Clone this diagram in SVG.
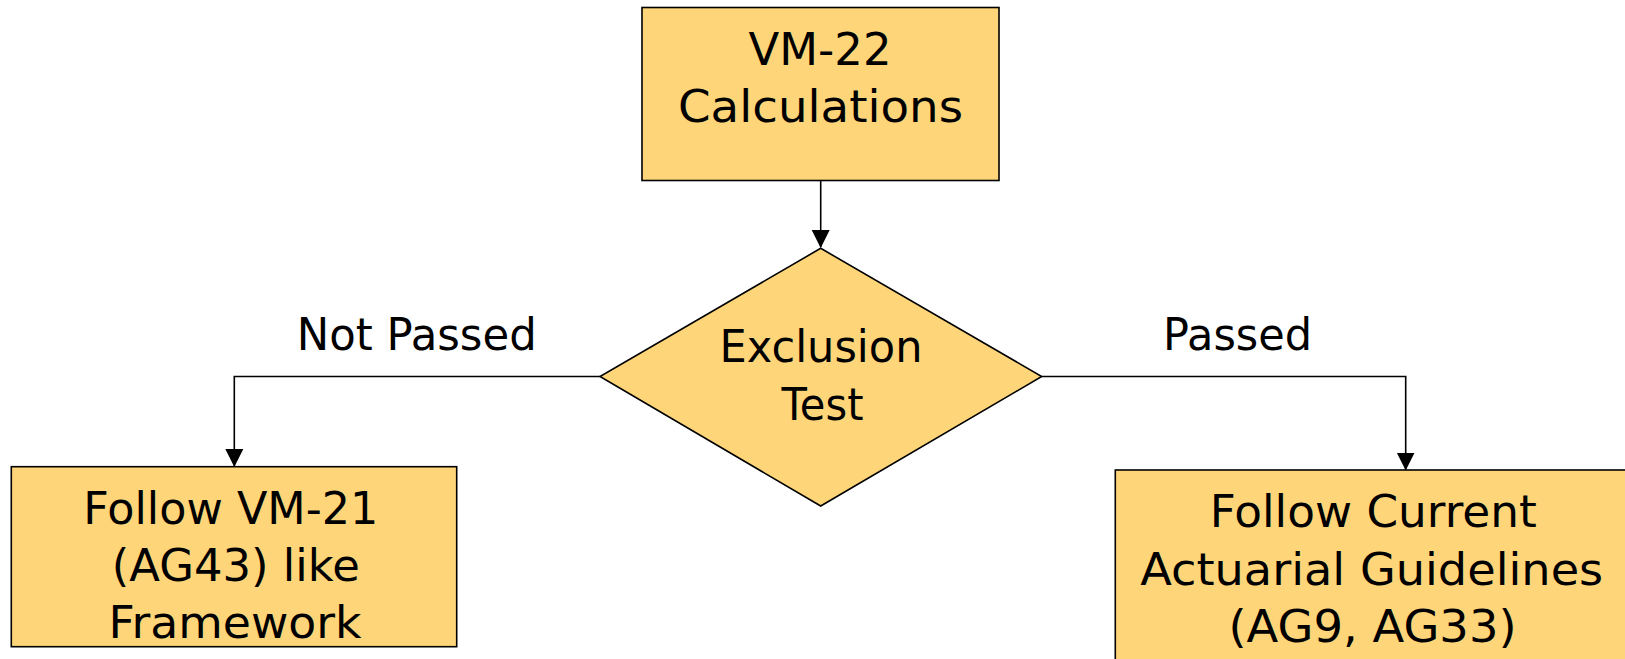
<svg xmlns="http://www.w3.org/2000/svg" width="1625" height="659" viewBox="0 0 1625 659">
<style>
.node{fill:#FED679;stroke:#000;stroke-width:1.6}
.t{font-family:"DejaVu Sans",sans-serif;font-size:45px;fill:#000;text-anchor:middle}
.edge{fill:none;stroke:#000;stroke-width:1.6}
</style>
<defs>
<marker id="ah" markerWidth="18" markerHeight="20" refX="17" refY="9" orient="auto" markerUnits="userSpaceOnUse" viewBox="0 0 18 18">
<path d="M0,0 L18,9 L0,18 Z" fill="#000"/>
</marker>
</defs>
<rect width="1625" height="659" fill="#fff"/>
<g id="connectors">
<path class="edge" d="M820.7,181 L820.7,247" marker-end="url(#ah)"/>
<path class="edge" d="M600,376.5 L234.3,376.5 L234.3,466" marker-end="url(#ah)"/>
<path class="edge" d="M1041.7,376.5 L1405.7,376.5 L1405.7,469.5" marker-end="url(#ah)"/>
<text class="t" x="416.7" y="350" textLength="240" lengthAdjust="spacingAndGlyphs">Not Passed</text>
<text class="t" x="1237.5" y="350" textLength="149" lengthAdjust="spacingAndGlyphs">Passed</text>
</g>
<g id="vm22">
<rect class="node" x="642" y="7.5" width="357" height="173"/>
<text class="t" x="820" y="65" textLength="143" lengthAdjust="spacingAndGlyphs">VM-22</text>
<text class="t" x="820.5" y="121.7" textLength="285" lengthAdjust="spacingAndGlyphs">Calculations</text>
</g>
<g id="exclusion">
<polygon class="node" points="820.7,248.3 1041.7,376.5 820.7,506 600,376.5"/>
<text class="t" x="821" y="361.7" textLength="203" lengthAdjust="spacingAndGlyphs">Exclusion</text>
<text class="t" x="822.5" y="420" textLength="82" lengthAdjust="spacingAndGlyphs">Test</text>
</g>
<g id="vm21">
<rect class="node" x="11.3" y="466.7" width="445.4" height="180"/>
<text class="t" x="230.8" y="524" textLength="295" lengthAdjust="spacingAndGlyphs">Follow VM-21</text>
<text class="t" x="235.8" y="580.7" textLength="248" lengthAdjust="spacingAndGlyphs">(AG43) like</text>
<text class="t" x="235" y="638.3" textLength="253" lengthAdjust="spacingAndGlyphs">Framework</text>
</g>
<g id="current">
<rect class="node" x="1115.3" y="470" width="520" height="200"/>
<text class="t" x="1373.3" y="526.7" textLength="327" lengthAdjust="spacingAndGlyphs">Follow Current</text>
<text class="t" x="1371.7" y="585" textLength="463" lengthAdjust="spacingAndGlyphs">Actuarial Guidelines</text>
<text class="t" x="1372.5" y="641.7" textLength="288" lengthAdjust="spacingAndGlyphs">(AG9, AG33)</text>
</g>
</svg>
